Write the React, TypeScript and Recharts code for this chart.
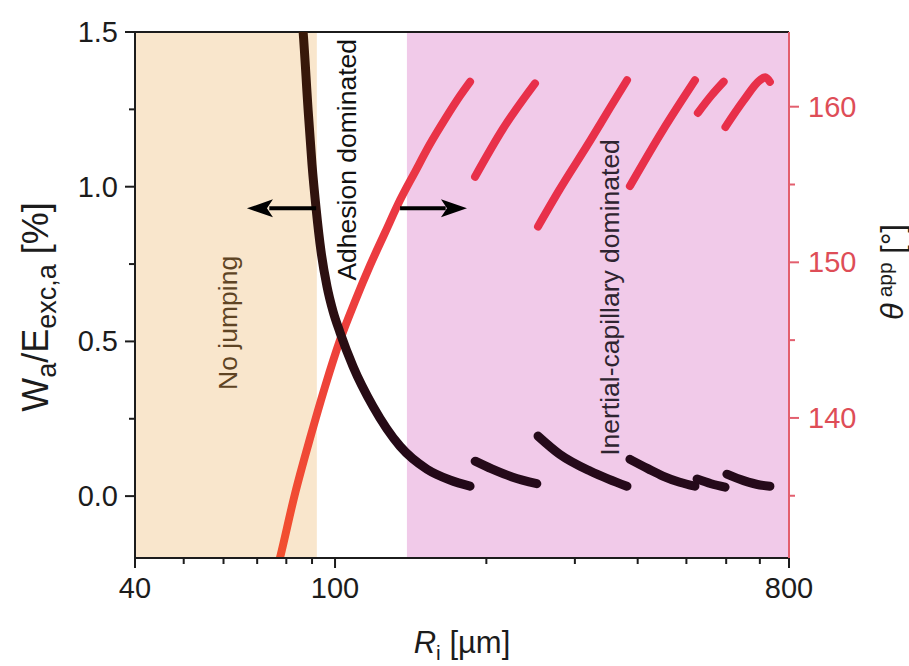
import React from 'react';
import {
  ComposedChart, Line, XAxis, YAxis, ReferenceArea, ReferenceLine, ReferenceDot,
} from 'recharts';

// R_i [µm] vs W_a/E_exc,a [%] (left) and apparent contact angle [°] (right)
const wSeg1 = [
  [85.8, 1.56], [86.4, 1.5], [88.4, 1.248], [90.0, 1.071], [91.7, 0.929], [93.8, 0.79],
  [96.4, 0.677], [99.1, 0.597], [102.3, 0.529], [108.6, 0.419], [119, 0.29],
  [134.7, 0.161], [152.4, 0.087], [169.3, 0.052], [185.6, 0.032],
];
const wSeg2 = [[190, 0.113], [205, 0.088], [225, 0.062], [252, 0.04]];
const wSeg3 = [[253.4, 0.194], [280, 0.135], [321.6, 0.081], [350, 0.055], [380.9, 0.032]];
const wSeg4 = [[386, 0.119], [420, 0.088], [449, 0.065], [485, 0.045], [520, 0.032]];
const wSeg5 = [[525, 0.055], [560, 0.04], [597, 0.029]];
const wSeg6 = [[602, 0.071], [650, 0.05], [700, 0.036], [733, 0.032]];

const thSeg1 = [
  [76.6, 130.2], [77.7, 131.0], [83.2, 135.1], [89.2, 138.7], [95.5, 142.0], [102.3, 145.0],
  [109.6, 147.5], [117.4, 149.8], [125.7, 151.9], [134.7, 154.0], [144.2, 155.8],
  [154.5, 157.6], [165.5, 159.2], [177.3, 160.7], [185.6, 161.6],
];
const thSeg2 = [[189.9, 155.5], [216, 158.6], [249.9, 161.5]];
const thSeg3 = [[253.4, 152.3], [280, 154.7], [321.6, 157.8], [352, 159.9], [380.9, 161.7]];
const thSeg4 = [[386, 154.9], [449, 158.5], [520, 161.7]];
const thSeg5 = [[527, 159.6], [560, 160.7], [593, 161.6]];
const thSeg6 = [[598, 158.7], [650, 160.4], [700, 161.7], [718, 161.9], [733, 161.6]];

const xTicks = [40, 50, 60, 70, 80, 90, 100, 200, 300, 400, 500, 600, 700, 800];
const xMajor = [40, 100, 800];
const wTicks = [0, 0.25, 0.5, 0.75, 1.0, 1.25, 1.5];
const wMajor = [0, 0.5, 1.0, 1.5];
const thTicks = [135, 140, 145, 150, 155, 160];
const thMajor = [140, 150, 160];

const regions = [
  { from: 40, to: 92, fill: '#f9e6cc' },
  { from: 139, to: 800, fill: '#f1cae9' },
];

const arrowY = 0.93;
const leftArrow = { from: 91.7, to: 74, tip: 66.8 };
const rightArrow = { from: 134.7, to: 166, tip: 183 };

const notes = [
  { text: 'No jumping', R: 61.2, W: 0.56, color: '#5e4424' },
  { text: 'Adhesion dominated', R: 105.6, W: 1.087, color: '#111' },
  { text: 'Inertial-capillary dominated', R: 352, W: 0.642, color: '#2e2430' },
];

const toPts = (seg: number[][], key: string) => seg.map(([R, v]) => ({ R, [key]: v }));

const FONT = '"Liberation Sans", Arial, Helvetica, sans-serif';
const INK = '#1c1c1c';
const RED = '#e8304a';
const AX_RED = '#e35f6e';
const DARK = '#250a1a';

function XTick({ x, y, payload }: any) {
  const major = xMajor.includes(payload.value);
  return (
    <g>
      <line x1={x} y1={y} x2={x} y2={y + (major ? 10 : 6)} stroke={INK} strokeWidth={2} />
      {major && (
        <text x={x} y={y + 40} textAnchor="middle" fontSize={29} fill={INK}>{payload.value}</text>
      )}
    </g>
  );
}

function LeftTick({ x, y, payload }: any) {
  const major = wMajor.includes(payload.value);
  return (
    <g>
      <line x1={x} y1={y} x2={x - (major ? 10 : 6)} y2={y} stroke={INK} strokeWidth={2} />
      {major && (
        <text x={x - 17} y={y + 10} textAnchor="end" fontSize={29} fill={INK}>
          {payload.value.toFixed(1)}
        </text>
      )}
    </g>
  );
}

function RightTick({ x, y, payload }: any) {
  const major = thMajor.includes(payload.value);
  return (
    <g>
      <line x1={x} y1={y} x2={x + (major ? 10 : 6)} y2={y} stroke={AX_RED} strokeWidth={2} />
      {major && (
        <text x={x + 19} y={y + 10} textAnchor="start" fontSize={29} fill="#de4d57">{payload.value}</text>
      )}
    </g>
  );
}

function LeftTitle(props: any) {
  const vb = props.viewBox || { x: 55, y: 32, width: 80, height: 526 };
  const cx = vb.x - 7;
  const cy = vb.y + vb.height / 2 + 12;
  return (
    <text x={cx} y={cy} transform={`rotate(-90 ${cx} ${cy})`} textAnchor="middle" fontSize={36} fill={INK}>
      W<tspan fontSize={27} dy={8}>a</tspan>
      <tspan dy={-8}>/E</tspan>
      <tspan fontSize={27} dy={8}>exc,a</tspan>
      <tspan dy={-8}> [%]</tspan>
    </text>
  );
}

function RightTitle(props: any) {
  const vb = props.viewBox || { x: 789, y: 32, width: 80, height: 526 };
  const cx = vb.x + 114;
  const cy = vb.y + 240;
  return (
    <text x={cx} y={cy} transform={`rotate(-90 ${cx} ${cy})`} textAnchor="middle" fontSize={31} fill={INK}>
      <tspan fontStyle="italic">θ</tspan>
      <tspan fontSize={21} dy={-11}> app</tspan>
      <tspan dy={11}> [°]</tspan>
    </text>
  );
}

function XTitle(props: any) {
  const vb = props.viewBox || { x: 135, y: 558, width: 654, height: 50 };
  const cx = vb.x + vb.width / 2;
  const cy = vb.y + 95;
  return (
    <text x={cx} y={cy} textAnchor="middle" fontSize={31} fill={INK}>
      <tspan fontStyle="italic">R</tspan>
      <tspan fontSize={21} dy={7}>i</tspan>
      <tspan dy={-7}> [µm]</tspan>
    </text>
  );
}

const headLeft = ({ cx, cy }: any) => (
  <polygon points={`${cx},${cy} ${cx + 26},${cy - 9} ${cx + 20},${cy} ${cx + 26},${cy + 9}`} fill="#000" />
);
const headRight = ({ cx, cy }: any) => (
  <polygon points={`${cx},${cy} ${cx - 26},${cy - 9} ${cx - 20},${cy} ${cx - 26},${cy + 9}`} fill="#000" />
);

const noteShape = (n: any) => ({ cx, cy }: any) => (
  <text
    x={cx} y={cy} transform={`rotate(-90 ${cx} ${cy})`}
    textAnchor="middle" dominantBaseline="central" fontSize={26.5} fill={n.color}
  >
    {n.text}
  </text>
);

const wSegs = [wSeg2, wSeg3, wSeg4, wSeg5, wSeg6];
const thSegs = [thSeg2, thSeg3, thSeg4, thSeg5, thSeg6];

export default function App() {
  return (
    <div style={{ width: 909, height: 666, background: '#fff', fontFamily: FONT }}>
      <style>{'body{margin:0}'}</style>
      <ComposedChart width={909} height={666} margin={{ top: 32, right: 40, bottom: 58, left: 55 }}>
        <defs>
          <linearGradient id="redGrad" x1="0" y1="1" x2="0" y2="0">
            <stop offset="0%" stopColor="#f2502e" />
            <stop offset="100%" stopColor="#e8304a" />
          </linearGradient>
          <linearGradient id="darkGrad" x1="0" y1="0" x2="0" y2="1">
            <stop offset="0%" stopColor="#3a1a08" />
            <stop offset="100%" stopColor="#220818" />
          </linearGradient>
        </defs>
        {regions.map((r) => (
          <ReferenceArea key={r.from} x1={r.from} x2={r.to} yAxisId="left" fill={r.fill} fillOpacity={1} stroke="none" />
        ))}
        <XAxis
          dataKey="R" type="number" scale="log" domain={[40, 800]} allowDataOverflow
          ticks={xTicks} interval={0} tick={<XTick />} tickSize={0} tickMargin={0} tickLine={false}
          axisLine={{ stroke: INK, strokeWidth: 2 }} height={50}
          label={<XTitle />}
        />
        <YAxis
          yAxisId="left" type="number" domain={[-0.2, 1.5]} allowDataOverflow
          ticks={wTicks} interval={0} tick={<LeftTick />} tickSize={0} tickMargin={0} tickLine={false}
          axisLine={{ stroke: INK, strokeWidth: 2 }} width={80}
          label={<LeftTitle />}
        />
        <YAxis
          yAxisId="right" orientation="right" type="number" domain={[131, 164.8]} allowDataOverflow
          ticks={thTicks} interval={0} tick={<RightTick />} tickSize={0} tickMargin={0} tickLine={false}
          axisLine={{ stroke: AX_RED, strokeWidth: 2 }} width={80}
          label={<RightTitle />}
        />
        <ReferenceLine y={1.5} yAxisId="left" stroke={INK} strokeWidth={2} />

        <Line
          data={toPts(thSeg1, 'th')} dataKey="th" yAxisId="right" type="monotone"
          stroke="url(#redGrad)" strokeWidth={8} strokeLinecap="round" dot={false} isAnimationActive={false}
        />
        {thSegs.map((s, i) => (
          <Line
            key={'th' + i} data={toPts(s, 'th')} dataKey="th" yAxisId="right" type="monotone"
            stroke={RED} strokeWidth={8} strokeLinecap="round" dot={false} isAnimationActive={false}
          />
        ))}
        <Line
          data={toPts(wSeg1, 'w')} dataKey="w" yAxisId="left" type="monotone"
          stroke="url(#darkGrad)" strokeWidth={9} strokeLinecap="round" dot={false} isAnimationActive={false}
        />
        {wSegs.map((s, i) => (
          <Line
            key={'w' + i} data={toPts(s, 'w')} dataKey="w" yAxisId="left" type="monotone"
            stroke={DARK} strokeWidth={9} strokeLinecap="round" dot={false} isAnimationActive={false}
          />
        ))}

        <ReferenceLine
          yAxisId="left" stroke="#000" strokeWidth={4}
          segment={[{ x: leftArrow.from, y: arrowY }, { x: leftArrow.to, y: arrowY }]}
        />
        <ReferenceDot x={leftArrow.tip} y={arrowY} yAxisId="left" r={1} shape={headLeft} />
        <ReferenceLine
          yAxisId="left" stroke="#000" strokeWidth={4}
          segment={[{ x: rightArrow.from, y: arrowY }, { x: rightArrow.to, y: arrowY }]}
        />
        <ReferenceDot x={rightArrow.tip} y={arrowY} yAxisId="left" r={1} shape={headRight} />

        {notes.map((n) => (
          <ReferenceDot key={n.text} x={n.R} y={n.W} yAxisId="left" r={1} shape={noteShape(n)} />
        ))}
      </ComposedChart>
    </div>
  );
}
